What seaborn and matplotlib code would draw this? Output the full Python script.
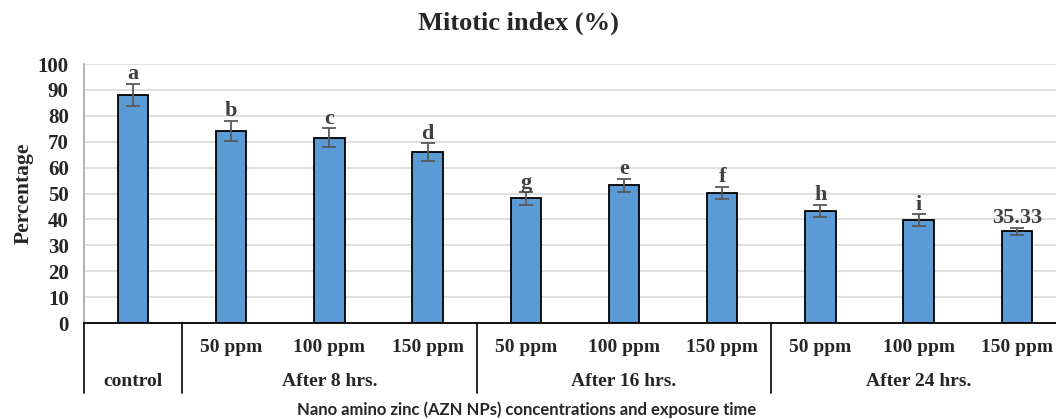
import numpy as np
import pandas as pd
import matplotlib
matplotlib.use("Agg")
import matplotlib.pyplot as plt
import matplotlib.transforms as mtransforms
import seaborn as sns

# --- data ---
bar_ids = ["control", "8h_50", "8h_100", "8h_150", "16h_50", "16h_100", "16h_150",
           "24h_50", "24h_100", "24h_150"]
conc_labels = ["", "50 ppm", "100 ppm", "150 ppm", "50 ppm", "100 ppm", "150 ppm",
               "50 ppm", "100 ppm", "150 ppm"]
values = [88.0, 74.2, 71.5, 66.1, 48.1, 53.2, 50.2, 43.4, 39.8, 35.33]
errors = [4.4, 3.8, 3.7, 3.4, 2.4, 2.5, 2.4, 2.3, 2.2, 1.5]
letters = ["a", "b", "c", "d", "g", "e", "f", "h", "i", "35.33"]
group_labels = ["control", "After 8 hrs.", "After 16 hrs.", "After 24 hrs."]
group_spans = [(0, 0), (1, 3), (4, 6), (7, 9)]

df = pd.DataFrame({"id": bar_ids, "value": values})

sns.set_style("white")
plt.rcParams['font.family'] = ['Liberation Serif', 'DejaVu Serif']

fig = plt.figure(figsize=(10.56, 4.19), dpi=100, facecolor="white")
ax = fig.add_axes([84 / 1056, 1 - 323 / 419, 1 - 84 / 1056, 259 / 419])

sns.barplot(data=df, x="id", y="value", order=bar_ids, color="#5B9BD5",
            saturation=1, width=0.31, edgecolor="black", linewidth=1.3,
            errorbar=None, zorder=2, ax=ax)
ax.errorbar(np.arange(len(values)), values, yerr=errors, fmt="none",
            ecolor="#595959", elinewidth=1.3, capsize=5, capthick=1.3, zorder=3)

# letters above error bars
for i, (v, e, t) in enumerate(zip(values, errors, letters)):
    ax.text(i, v + e - 0.2, t, ha="center", va="bottom", fontsize=16,
            fontweight="bold", color="#404040")

ax.set_ylim(0, 100)
ax.set_xlim(-0.5, 9.4)
ax.set_yticks(range(0, 101, 10))
ax.yaxis.grid(True, color="#d9d9d9", linewidth=1.2, zorder=0)
ax.set_axisbelow(True)
ax.tick_params(axis="y", length=0, labelsize=15, pad=11)
for lbl in ax.get_yticklabels():
    lbl.set_fontweight("bold")
ax.set_xticks([])
ax.set_xlabel("")
ax.set_ylabel("Percentage", fontsize=15.5, fontweight="bold", labelpad=3)

for s in ["top", "right"]:
    ax.spines[s].set_visible(False)
ax.spines["left"].set_color("#a6a6a6")
ax.spines["left"].set_linewidth(1.2)
ax.spines["bottom"].set_color("black")
ax.spines["bottom"].set_linewidth(1.3)

# category table under axis
trans = mtransforms.blended_transform_factory(ax.transData, ax.transAxes)
for x in [-0.5, 0.5, 3.5, 6.5]:
    ax.plot([x, x], [0, -0.27], transform=trans, color="black", lw=1.2,
            clip_on=False)
for i, t in enumerate(conc_labels):
    ax.text(i, -0.093, t, transform=trans, ha="center", va="center",
            fontsize=14, fontweight="bold")
for t, (a, b) in zip(group_labels, group_spans):
    ax.text((a + b) / 2, -0.224, t, transform=trans, ha="center", va="center",
            fontsize=14, fontweight="bold")

fig.text(527 / 1056, 1 - 410 / 419,
         "Nano amino zinc (AZN NPs) concentrations and exposure time",
         ha="center", va="center", fontsize=12, fontweight="bold",
         family=["Lato", "DejaVu Sans"])
fig.text(518 / 1056, 1 - 23 / 419, "Mitotic index (%)", ha="center",
         va="center", fontsize=19, fontweight="bold")

fig.savefig("out.png", dpi=100, facecolor="white")
